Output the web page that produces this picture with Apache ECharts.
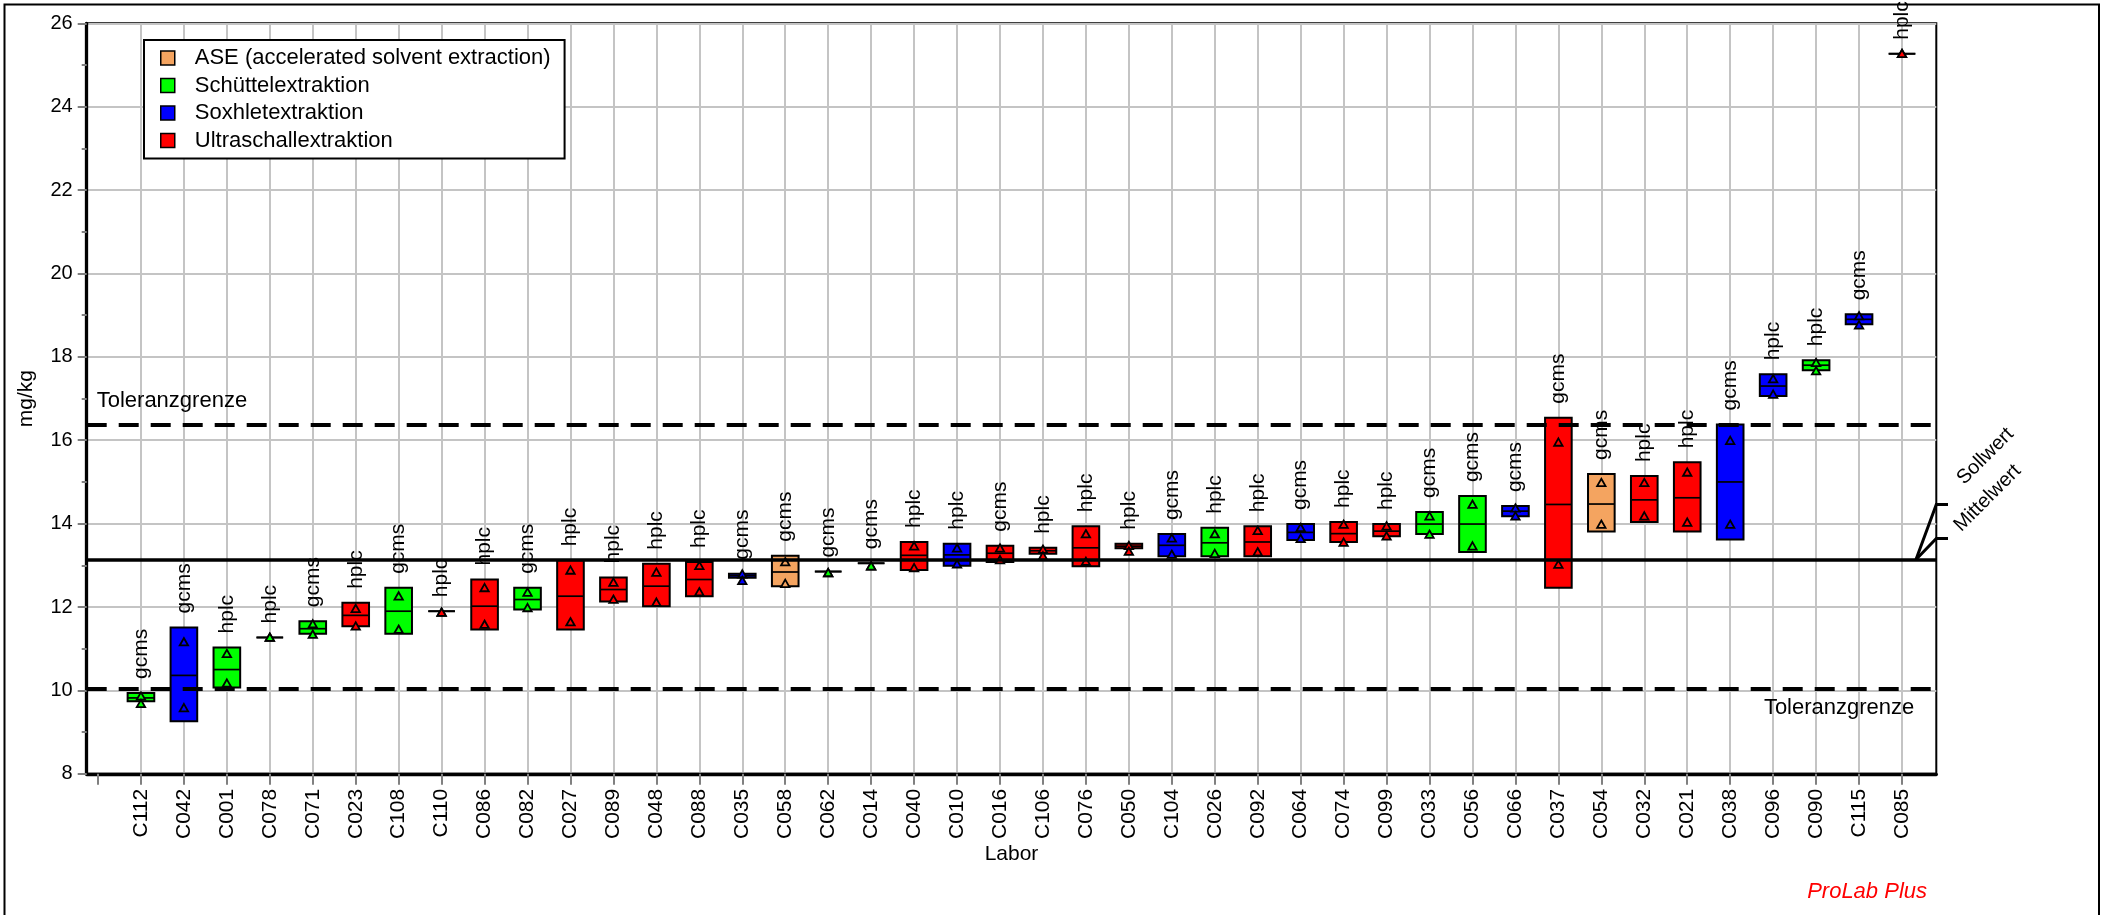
<!DOCTYPE html>
<html><head><meta charset="utf-8">
<script src="https://cdn.jsdelivr.net/npm/echarts@6/dist/echarts.min.js"></script>
<style>html,body{margin:0;padding:0;background:#fff}#c{width:2109px;height:915px}</style>
</head><body><div id="c"></div>
<script>
// ---- data ----
const labs = ['C112','C042','C001','C078','C071','C023','C108','C110','C086','C082','C027','C089','C048','C088','C035','C058','C062','C014','C040','C010','C016','C106','C076','C050','C104','C026','C092','C064','C074','C099','C033','C056','C066','C037','C054','C032','C021','C038','C096','C090','C115','C085'];
const analysis = ['gcms','gcms','hplc','hplc','gcms','hplc','gcms','hplc','hplc','gcms','hplc','hplc','hplc','hplc','gcms','gcms','gcms','gcms','hplc','hplc','gcms','hplc','hplc','hplc','gcms','hplc','hplc','gcms','hplc','hplc','gcms','gcms','gcms','gcms','gcms','hplc','hplc','gcms','hplc','hplc','gcms','hplc'];
const extraction = ['S','X','S','S','S','U','S','U','U','S','U','U','U','U','X','A','S','S','U','X','U','U','U','U','X','S','U','X','U','U','S','S','X','U','A','U','U','X','X','S','X','U'];
const lower  = [9.74,9.26,10.07,11.27,11.36,11.54,11.36,11.90,11.46,11.94,11.46,12.13,12.02,12.26,12.70,12.50,12.85,13.05,12.89,12.99,13.08,13.28,12.98,13.41,13.22,13.22,13.22,13.61,13.56,13.70,13.75,13.32,14.18,12.46,13.81,14.04,13.81,13.62,17.06,17.68,18.78,25.27];
const upper  = [9.94,11.51,11.03,11.27,11.66,12.10,12.46,11.90,12.66,12.46,13.12,12.71,13.04,13.08,12.80,13.23,12.85,13.05,13.56,13.52,13.47,13.42,13.94,13.52,13.75,13.90,13.94,13.99,14.04,13.99,14.28,14.66,14.42,16.54,15.19,15.14,15.47,16.38,17.58,17.92,19.02,25.27];
const median = [9.82,10.36,10.50,11.27,11.48,11.80,11.90,11.90,12.02,12.18,12.26,12.42,12.50,12.66,12.75,12.84,12.85,13.05,13.24,13.25,13.29,13.35,13.42,13.46,13.48,13.54,13.56,13.79,13.76,13.82,13.99,13.99,14.30,14.46,14.47,14.57,14.62,15.00,17.30,17.80,18.90,25.27];
const value1 = [9.86,11.16,10.88,11.27,11.59,11.96,12.26,11.87,12.46,12.35,12.88,12.59,12.83,12.99,12.79,13.08,12.82,12.98,13.46,13.41,13.41,13.38,13.75,13.47,13.65,13.75,13.83,13.90,13.98,13.94,14.18,14.46,14.37,15.95,14.98,14.98,15.23,15.99,17.47,17.86,18.98,25.27];
const value2 = [9.68,9.58,10.17,11.27,11.34,11.54,11.46,11.87,11.58,11.98,11.64,12.18,12.11,12.36,12.63,12.56,12.82,12.98,12.94,13.03,13.13,13.22,13.09,13.33,13.26,13.28,13.32,13.64,13.55,13.70,13.74,13.46,14.18,13.02,13.98,14.18,14.03,13.98,17.10,17.66,18.76,25.27];
const yMin = 8, yMax = 26, yInterval = 2;
const tolUpper = 16.38, tolLower = 10.03, sollwert = 13.14;
const groupKeys   = ['A','S','X','U'];
const groupNames  = ['ASE (accelerated solvent extraction)','Schüttelextraktion','Soxhletextraktion','Ultraschallextraktion'];
const groupColors = ['#F4A460','#00FF00','#0000FF','#FF0000'];
const categories = [''].concat(labs);

// ---- chart ----
const FONT = "'Liberation Sans', Arial, Helvetica, sans-serif";
const chart = echarts.init(document.getElementById('c'), null, {renderer:'canvas'});
const G0 = {left:86.7, top:23.3, width:1849.6, height:750.5};
const G1 = {left:98, top:23.3, width:1804, height:750.5};

function tri(p, color){
  return {type:'polygon', shape:{points:[[p[0],p[1]-4],[p[0]+4.2,p[1]+3.4],[p[0]-4.2,p[1]+3.4]]},
          style:{fill:color, stroke:'#000', lineWidth:1.8, lineJoin:'miter'}};
}
function renderBox(params, api){
  const x = api.value(0);
  const pLo = api.coord([x, api.value(1)]);
  const pHi = api.coord([x, api.value(2)]);
  const pMid = api.coord([x, api.value(3)]);
  const p1 = api.coord([x, api.value(4)]);
  const p2 = api.coord([x, api.value(5)]);
  const w = api.size([1,0])[0]*0.62;
  const color = api.visual('color');
  return {type:'group', children:[
    {type:'rect', shape:{x:pHi[0]-w/2, y:pHi[1], width:w, height:Math.max(0,pLo[1]-pHi[1])}, style:{fill:color, stroke:'#000', lineWidth:2}},
    {type:'line', shape:{x1:pMid[0]-w/2, y1:pMid[1], x2:pMid[0]+w/2, y2:pMid[1]}, style:{stroke:'#000', lineWidth:1.7}},
    tri(p1, color), tri(p2, color)
  ]};
}
function renderLabel(params, api){
  const i = params.dataIndex;
  const p = api.coord([api.value(0), api.value(1)]);
  return {type:'text', x:p[0], y:p[1]-14, rotation:Math.PI/2,
    style:{text:analysis[i], fill:'#000', font:'21px '+FONT, align:'left', verticalAlign:'middle', textAlign:'left', textVerticalAlign:'middle'}};
}

const boxSeries = groupKeys.map((k, gi) => {
  const data = [];
  labs.forEach((l, i) => { if (extraction[i] === k) data.push([i+1, lower[i], upper[i], median[i], value1[i], value2[i]]); });
  return {type:'custom', name:groupNames[gi], xAxisIndex:1, yAxisIndex:1, z:4,
    itemStyle:{color:groupColors[gi]}, renderItem:renderBox, data:data,
    encode:{x:0, y:[1,2,3,4,5]}, clip:false, silent:true};
});

const labelSeries = {type:'custom', name:'labels', xAxisIndex:1, yAxisIndex:1, z:2, silent:true, clip:false,
  renderItem:renderLabel, data: labs.map((l,i)=>[i+1, upper[i]]), encode:{x:0,y:1}};

const dashed = {color:'#000', width:4, type:[20,12]};
const refSeries = {type:'line', name:'ref', xAxisIndex:0, yAxisIndex:0, z:3, data:[], silent:true,
  markLine:{symbol:'none', silent:true, animation:false, data:[
    {yAxis:tolUpper, lineStyle:dashed, label:{show:true, position:'insideStartTop', formatter:'Toleranzgrenze', distance:[10,12], fontSize:22, color:'#000', fontFamily:FONT}},
    {yAxis:tolLower, lineStyle:dashed, label:{show:true, position:'insideEndBottom', formatter:'Toleranzgrenze', distance:[22,8], fontSize:22, color:'#000', fontFamily:FONT}},
    {yAxis:sollwert, lineStyle:{color:'#000', width:3.6, type:'solid'}, label:{show:false}}
  ]}};

chart.setOption({
  animation:false,
  backgroundColor:'#fff',
  textStyle:{fontFamily:FONT},
  grid:[
    Object.assign({show:true, borderColor:'#000', borderWidth:2, backgroundColor:'transparent'}, G0),
    Object.assign({show:false}, G1)
  ],
  legend:{
    orient:'vertical', left:144, top:40, padding:[7,14,7,16], itemGap:5.5, itemWidth:14, itemHeight:14,
    backgroundColor:'#fff', borderColor:'#000', borderWidth:2, borderRadius:0, icon:'rect',
    itemStyle:{borderColor:'#000', borderWidth:1.5},
    textStyle:{fontSize:22, lineHeight:22, color:'#000', fontFamily:FONT, padding:[0,0,0,15]},
    data:groupNames, selectedMode:false
  },
  xAxis:[
    {type:'value', gridIndex:0, min:0, max:1, name:'Labor', nameLocation:'middle', nameGap:70,
     nameTextStyle:{fontSize:21, color:'#000', fontFamily:FONT},
     axisLine:{show:true, onZero:false, lineStyle:{color:'#000', width:3.3}},
     axisTick:{show:false}, axisLabel:{show:false}, splitLine:{show:false}},
    {type:'category', gridIndex:1, data:categories, boundaryGap:false,
     axisLine:{show:false}, axisTick:{show:true, interval:0, length:11, lineStyle:{color:'#808080', width:2}},
     axisLabel:{show:true, interval:0, rotate:90, margin:15, fontSize:21, color:'#000', fontFamily:FONT},
     splitLine:{show:true, interval:function(idx){return idx>0;}, lineStyle:{color:'#c4c4c4', width:2}}}
  ],
  yAxis:[
    {type:'value', gridIndex:0, min:yMin, max:yMax, interval:yInterval, name:'mg/kg', nameLocation:'middle', nameGap:50,
     nameTextStyle:{fontSize:21, color:'#000', fontFamily:FONT},
     axisLine:{show:true, onZero:false, lineStyle:{color:'#000', width:3.3}},
     axisTick:{show:true, length:9, lineStyle:{color:'#808080', width:2}},
     minorTick:{show:true, splitNumber:2, length:5, lineStyle:{color:'#808080', width:2}},
     axisLabel:{fontSize:20, color:'#000', margin:14, fontFamily:FONT},
     splitLine:{show:true, lineStyle:{color:'#c4c4c4', width:2}}},
    {type:'value', gridIndex:1, min:yMin, max:yMax, interval:yInterval, show:false, splitLine:{show:false}}
  ],
  series:[labelSeries, refSeries].concat(boxSeries)
});

// annotations tied to axis coordinates
const yS = chart.convertToPixel({yAxisIndex:0}, sollwert);
const xR = chart.convertToPixel({xAxisIndex:0}, 1);
chart.setOption({graphic:[
  {type:'rect', shape:{x:4.5, y:4.5, width:2094.5, height:1000}, style:{fill:'none', stroke:'#000', lineWidth:2}, z:0, silent:true},
  {type:'polyline', shape:{points:[[xR-20.3,yS],[xR,yS-55],[xR+11.7,yS-55]]}, style:{stroke:'#000', lineWidth:3, fill:'none'}, z:10},
  {type:'polyline', shape:{points:[[xR-20.3,yS],[xR,yS-21],[xR+11.7,yS-21]]}, style:{stroke:'#000', lineWidth:3, fill:'none'}, z:10},
  {type:'text', x:xR+31, y:yS-71, rotation:Math.PI/4, style:{text:'Sollwert', font:'20px '+FONT, fill:'#000', align:'left', verticalAlign:'bottom'}, z:10},
  {type:'text', x:xR+28, y:yS-24, rotation:Math.PI/4, style:{text:'Mittelwert', font:'20px '+FONT, fill:'#000', align:'left', verticalAlign:'bottom'}, z:10},
  {type:'text', x:1927, y:892, style:{text:'ProLab Plus', font:'italic 22px '+FONT, fill:'#FF0000', align:'right', verticalAlign:'middle'}, z:10}
]});
</script>
</body></html>
